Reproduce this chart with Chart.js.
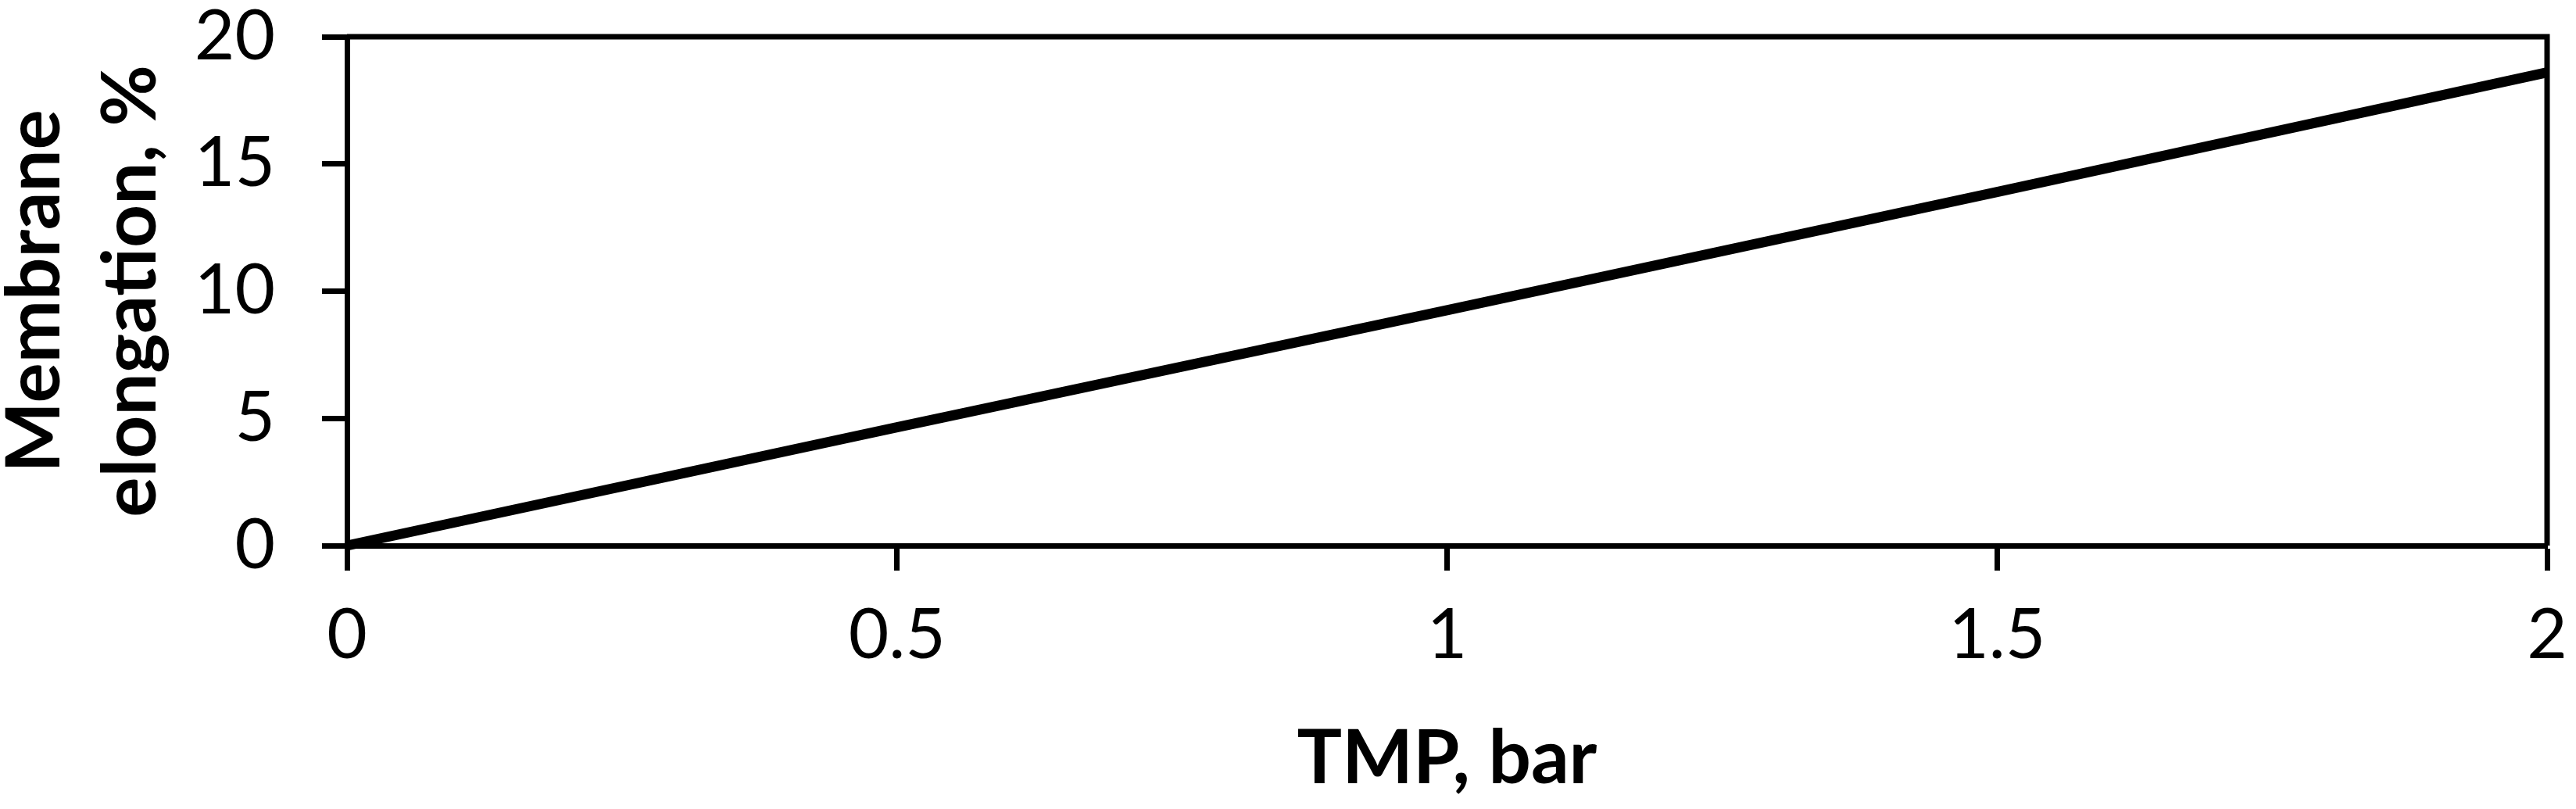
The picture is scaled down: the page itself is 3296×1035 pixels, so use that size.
<!DOCTYPE html>
<html>
<head>
<meta charset="utf-8">
<script src="https://cdn.jsdelivr.net/npm/chart.js@4.4.1/dist/chart.umd.min.js"></script>
<style>
  html, body { margin: 0; padding: 0; background: #fff; }
  #wrap { width: 3296px; height: 1035px; }
</style>
</head>
<body>
<div id="wrap"><canvas id="chart" width="3296" height="1035"></canvas></div>
<script>
// values
const tmpBar = [0, 0.5, 1, 1.5, 2];
const elongation = [0, 4.65, 9.25, 13.9, 18.6];
const xTicks = [0, 0.5, 1, 1.5, 2];
const yTicks = [0, 5, 10, 15, 20];

const points = tmpBar.map((x, i) => ({ x: x, y: elongation[i] }));

// box round the plot area (top and right edges)
const frame = {
  id: 'frame',
  afterDatasetsDraw(chart) {
    const { ctx, chartArea: a } = chart;
    ctx.save();
    ctx.strokeStyle = '#000';
    ctx.lineWidth = 7;
    ctx.beginPath();
    ctx.moveTo(a.left, a.top);
    ctx.lineTo(a.right, a.top);
    ctx.lineTo(a.right, a.bottom);
    ctx.stroke();
    ctx.restore();
  }
};

const config = {
  type: 'line',
  data: {
    datasets: [{
      data: points,
      borderColor: '#000',
      borderWidth: 13,
      pointRadius: 0,
      tension: 0,
      clip: 10
    }]
  },
  options: {
    responsive: false,
    animation: false,
    devicePixelRatio: 1,
    layout: { padding: { top: 47, right: 37, left: 0, bottom: 0 } },
    plugins: { legend: { display: false }, tooltip: { enabled: false } },
    scales: {
      x: {
        type: 'linear',
        min: 0,
        max: 2,
        afterBuildTicks: (s) => { s.ticks = xTicks.map(v => ({ value: v })); },
        afterFit: (s) => { s.height = 337; s.paddingLeft = 0; s.paddingRight = 0; },
        ticks: {
          color: '#000',
          padding: 30,
          maxRotation: 0,
          font: { family: 'Lato', size: 89 },
          callback: (v) => String(v)
        },
        grid: { drawOnChartArea: false, tickLength: 32, tickWidth: 7, color: '#000' },
        border: { display: true, width: 7, color: '#000' },
        title: {
          display: true,
          text: 'TMP, bar',
          color: '#000',
          font: { family: 'Lato', size: 96, weight: 'bold', lineHeight: 1.2 },
          padding: { top: 0, bottom: 6 }
        }
      },
      y: {
        min: 0,
        max: 20,
        afterBuildTicks: (s) => { s.ticks = yTicks.map(v => ({ value: v })); },
        afterFit: (s) => { s.width = 444; s.paddingTop = 0; s.paddingBottom = 0; },
        ticks: {
          color: '#000',
          padding: 60,
          font: { family: 'Lato', size: 89 }
        },
        grid: { drawOnChartArea: false, tickLength: 32, tickWidth: 7, color: '#000' },
        border: { display: true, width: 7, color: '#000' },
        title: {
          display: true,
          text: ['Membrane', 'elongation, %'],
          color: '#000',
          font: { family: 'Lato', size: 96, weight: 'bold', lineHeight: 1.28 },
          padding: { top: -16, bottom: 0 }
        }
      }
    }
  },
  plugins: [frame]
};

new Chart(document.getElementById('chart'), config);
</script>
</body>
</html>
